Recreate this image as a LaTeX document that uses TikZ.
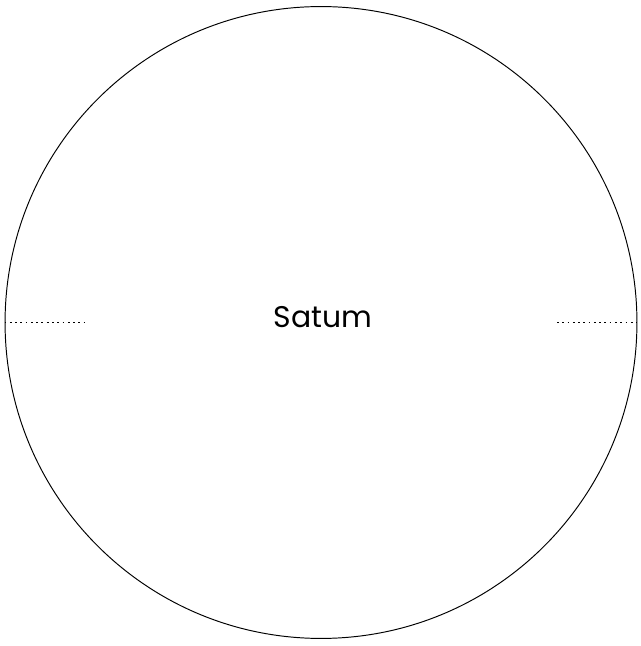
\documentclass[tikz,border=0pt]{standalone}
\usepackage{fontspec}
\setmainfont{Poppins}
\usetikzlibrary{positioning}
\tikzset{
  planetcirc/.style={draw,circle,minimum size=12.64cm,inner sep=0pt,line width=0.55pt},
  dotline/.style={line width=1pt,dash pattern=on 1pt off 2pt},
  lbl/.style={font=\fontsize{17}{20}\selectfont,anchor=base,inner sep=0pt}
}
\begin{document}
\begin{tikzpicture}[x=0.02cm,y=0.02cm]
  \useasboundingbox (0,0) rectangle (640,646);
  \node[planetcirc] (saturn) at (321,323.5) {};
  \node[lbl] (name) at (323,318) {Satum};
  \coordinate (lend) at (87,323.5);
  \coordinate (rend) at (557,323.5);

  \draw[dotline] (saturn.west) -- (lend);
  \draw[dotline] (rend) -- (saturn.east);
\end{tikzpicture}
\end{document}
